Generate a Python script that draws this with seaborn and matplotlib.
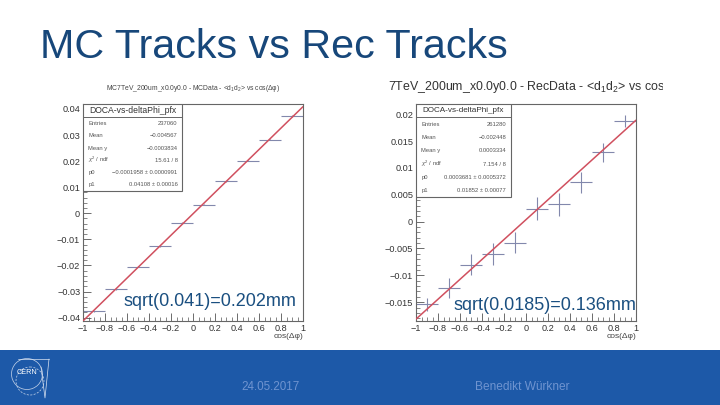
import matplotlib
matplotlib.use("Agg")
import matplotlib.pyplot as plt
from matplotlib.patches import Rectangle, Circle
from matplotlib.ticker import MultipleLocator, FuncFormatter
from matplotlib.transforms import Bbox
import seaborn as sns

sns.set_style("white")
plt.rcParams["font.family"] = ["Liberation Sans", "DejaVu Sans"]
plt.rcParams["mathtext.fontset"] = "custom"
plt.rcParams["mathtext.rm"] = "Liberation Sans"
plt.rcParams["mathtext.it"] = "Liberation Sans:italic"

bin_centers = [-0.9, -0.7, -0.5, -0.3, -0.1, 0.1, 0.3, 0.5, 0.7, 0.9]
mc_values = [-0.0376, -0.0291, -0.0205, -0.0126, -0.0036, 0.0032, 0.0122, 0.0201, 0.0282, 0.0373]
mc_errors = [0.0002, 0.0002, 0.0002, 0.0002, 0.0002, 0.0002, 0.0002, 0.0002, 0.0002, 0.0002]
rec_values = [-0.0154, -0.0124, -0.0080, -0.0060, -0.0039, 0.0024, 0.0032, 0.0073, 0.0129, 0.0188]
rec_errors = [0.0012, 0.0019, 0.0020, 0.0020, 0.0020, 0.0021, 0.0021, 0.0020, 0.0018, 0.0011]
fit_x = [-1, 1]
mc_fit_y = [-0.04128, 0.04088]
rec_fit_y = [-0.01815, 0.01889]
mc_stats = [("Entries", "237060"), ("Mean", "\u22120.004567"), ("Mean y", "\u22120.0003834"),
            ("$\\chi^{2}$ / ndf", "15.61 / 8"), ("p0", "\u22120.0001958 \u00b1 0.0000991"),
            ("p1", "0.04108 \u00b1 0.00016")]
rec_stats = [("Entries", "261280"), ("Mean", "\u22120.002448"), ("Mean y", "0.0003334"),
             ("$\\chi^{2}$ / ndf", "7.154 / 8"), ("p0", "0.0003681 \u00b1 0.0005372"),
             ("p1", "0.01852 \u00b1 0.00077")]

W, H = 720, 405
BLUE = "#1d59a8"
MARK = "#8288ac"
FIT = "#d0505f"
TXT = "#555555"

fig = plt.figure(figsize=(7.2, 4.05), dpi=100, facecolor="white")


def px_axes(x0, y0, x1, y1):
    return fig.add_axes([x0 / W, 1 - y1 / H, (x1 - x0) / W, (y1 - y0) / H])


def fmt_label(v, _):
    s = f"{v:g}"
    return s.replace("-", "\u2212")


def panel(rect, values, errors, fit_y, ylim, ymajor, yminor, stats, box_w, box_h, capt, tick_fs):
    ax = px_axes(*rect)
    sns.lineplot(x=fit_x, y=fit_y, ax=ax, color=FIT, lw=1.1, zorder=3, errorbar=None)
    ax.errorbar(bin_centers, values, xerr=0.1, yerr=errors, fmt="none", ecolor=MARK, elinewidth=0.8, zorder=2)
    ax.set_xlim(-1, 1)
    ax.set_ylim(*ylim)
    ax.xaxis.set_major_locator(MultipleLocator(0.2))
    ax.xaxis.set_minor_locator(MultipleLocator(0.05))
    ax.yaxis.set_major_locator(MultipleLocator(ymajor))
    ax.yaxis.set_minor_locator(MultipleLocator(yminor))
    ax.xaxis.set_major_formatter(FuncFormatter(lambda v, p: fmt_label(round(v, 1), p)))
    ax.yaxis.set_major_formatter(FuncFormatter(lambda v, p: fmt_label(round(v, 3), p)))
    ax.tick_params(which="major", direction="in", length=6, width=0.6, color="#555555",
                   labelsize=tick_fs, labelcolor="#333333", pad=2, bottom=True, left=True)
    ax.tick_params(which="minor", direction="in", length=3, width=0.5, color="#555555", bottom=True, left=True)
    for s in ax.spines.values():
        s.set_color("#666666")
        s.set_linewidth(0.8)
    ax.grid(False)
    ax.set_xlabel("cos(\u0394\u03c6)", fontsize=6, color="#444444", labelpad=0, loc="right")
    ax.add_patch(Rectangle((0, 1 - box_h), box_w, box_h, transform=ax.transAxes, fc="white",
                           ec="#666666", lw=0.8, zorder=5))
    head = 0.062
    ax.plot([0, box_w], [1 - head, 1 - head], transform=ax.transAxes, color="#666666", lw=0.7, zorder=6)
    ax.text(box_w / 2, 1 - head / 2, "DOCA-vs-deltaPhi_pfx", transform=ax.transAxes, ha="center",
            va="center", fontsize=capt, color="#333333", zorder=6)
    rows = (box_h - head) / len(stats)
    for i, (k, v) in enumerate(stats):
        y = 1 - head - rows * (i + 0.5)
        ax.text(0.025, y, k, transform=ax.transAxes, va="center", fontsize=4.2, color=TXT, zorder=6)
        ax.text(box_w - 0.02, y, v, transform=ax.transAxes, va="center", ha="right", fontsize=4.2,
                color=TXT, zorder=6)
    return ax


ax1 = panel((83, 104, 303, 321), mc_values, mc_errors, mc_fit_y, (-0.0413, 0.0419), 0.01, 0.002,
            mc_stats, 0.45, 0.40, 6.2, 6.6)
ax2 = panel((416, 104, 636, 321), rec_values, rec_errors, rec_fit_y, (-0.0185, 0.0219), 0.005, 0.001,
            rec_stats, 0.43, 0.43, 5.9, 6.6)

fig.text(193 / W, 1 - 88 / H, "MC7TeV_200um_x0.0y0.0 - MCData - <d$_{1}$d$_{2}$> vs cos(\u0394\u03c6)",
         fontsize=4.9, color="#444444", ha="center", va="center")
t = fig.text(388 / W, 1 - 87 / H, "7TeV_200um_x0.0y0.0 - RecData - <d$_{1}$d$_{2}$> vs cos(\u0394\u03c6)",
             fontsize=8.9, color="#333333", ha="left", va="center")
t.set_clip_on(True)
t.set_clip_box(Bbox([[380, 405 - 110], [663, 405 - 70]]))

fig.text(40 / W, 1 - 58 / H, "MC Tracks vs Rec Tracks", fontsize=29.7, color="#17477a", ha="left", va="baseline")
fig.text(123 / W, 1 - 301 / H, "sqrt(0.041)=0.202mm", fontsize=13, color="#1a4f80", ha="left", va="center", zorder=10)
fig.text(454 / W, 1 - 305 / H, "sqrt(0.0185)=0.136mm", fontsize=13, color="#1a4f80", ha="left", va="center", zorder=10)

bg = fig.add_axes([0, 0, 1, 1], zorder=-1)
bg.set_xlim(0, W)
bg.set_ylim(H, 0)
bg.axis("off")
bg.add_patch(Rectangle((0, 350), W, 55, fc=BLUE, ec="none"))

fg = fig.add_axes([0, 0, 1, 1], zorder=20)
fg.set_xlim(0, W)
fg.set_ylim(H, 0)
fg.axis("off")
fg.patch.set_alpha(0)
fg.add_patch(Circle((27, 374), 15.5, fc="none", ec="#c9d6ea", lw=0.5))
fg.add_patch(Circle((30, 381), 14, fc="none", ec="#c9d6ea", lw=0.5, ls=(0, (3, 2))))
fg.plot([18, 49], [359, 359], color="#dbe4f2", lw=0.5)
fg.plot([41, 45, 49], [367, 398, 359], color="#dbe4f2", lw=0.5)
fg.text(27, 373, "CERN", fontsize=5.2, color="white", ha="center", va="center")

fig.text(271 / W, 1 - 387 / H, "24.05.2017", fontsize=8.4, color="#6f94d0", ha="center", va="center", zorder=21)
fig.text(522 / W, 1 - 387 / H, "Benedikt W\u00fcrkner", fontsize=8.6, color="#6f94d0", ha="center", va="center", zorder=21)

fig.savefig("out.png", dpi=100, facecolor="white")
